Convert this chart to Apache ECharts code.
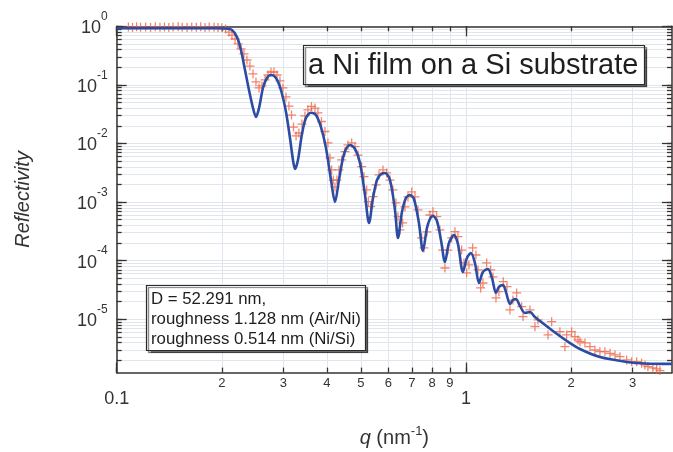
<!DOCTYPE html>
<html>
<head>
<meta charset="utf-8">
<script src="https://cdn.jsdelivr.net/npm/echarts@6/dist/echarts.min.js"></script>
<style>
  html, body { margin: 0; padding: 0; background: #ffffff; }
  #chart { width: 673px; height: 452px; }
</style>
</head>
<body>
<div id="chart"></div>
<script>
// Fitted reflectivity curve (q in nm^-1, R)
const fitQ = [0.1, 0.15, 0.19, 0.2042, 0.2138, 0.2210, 0.2269, 0.2330, 0.2392, 0.2456, 0.2505, 0.2556, 0.2623, 0.2693, 0.2765,
  0.2858, 0.2953, 0.3053, 0.3134, 0.3197, 0.3239, 0.3304, 0.3392, 0.3482, 0.3598, 0.3720, 0.3844, 0.3974, 0.4108, 0.4217,
  0.4329, 0.4445, 0.4535, 0.4656, 0.4812, 0.4973, 0.5140, 0.5278, 0.5418, 0.5563, 0.5711, 0.5863, 0.6060, 0.6263, 0.6388,
  0.6558, 0.6733, 0.6913, 0.7098, 0.7334, 0.7530, 0.7732, 0.7887, 0.8045, 0.8259, 0.8481, 0.8707, 0.8940, 0.9240, 0.9487,
  0.9804, 1.0066, 1.0335, 1.0611, 1.0895, 1.1186, 1.1561, 1.1871, 1.2188, 1.2431, 1.2763, 1.3018, 1.3366, 1.3632, 1.3904,
  1.4275, 1.4753, 1.5248, 1.5759, 1.6287, 1.7748, 1.9454, 2.1205, 2.4185, 2.8907, 3.2544, 3.8889];
const fitR = [0.925, 0.925, 0.924, 0.917, 0.865, 0.657, 0.394, 0.1796, 0.0818, 0.0403, 0.0283, 0.0403, 0.0886, 0.1311, 0.1475,
  0.1311, 0.0818, 0.0345, 0.01241, 0.00523, 0.00367, 0.00523, 0.01453, 0.02724, 0.03354, 0.03064, 0.01912, 0.00838, 0.002383, 0.001004,
  0.002383, 0.00566, 0.00806, 0.00943, 0.00806, 0.004648, 0.001321, 0.000440, 0.001174, 0.002383, 0.003016, 0.003137, 0.002383, 0.000733, 0.000244,
  0.000678, 0.001174, 0.001321, 0.001129, 0.000440, 0.0001464, 0.000361, 0.000515, 0.000579, 0.000476, 0.0002255, 0.0000950, 0.0002004, 0.0002745, 0.0001927,
  0.0000642, 0.0001112, 0.0001353, 0.0000913, 0.0000416, 0.0000642, 0.0000722, 0.0000507, 0.0000281, 0.0000356, 0.0000385, 0.0000292, 0.0000182, 0.0000213, 0.0000222,
  0.0000169, 0.0000128, 0.0000133, 0.0000109, 0.00000935, 0.00000631, 0.00000426, 0.00000311, 0.00000227, 0.00000187, 0.00000176, 0.00000173];

// Measured reflectivity points
const dataQ = [0.108, 0.111, 0.114, 0.117, 0.121, 0.125, 0.129, 0.133, 0.137, 0.141, 0.145, 0.150, 0.154, 0.159, 0.164,
  0.169, 0.174, 0.179, 0.184, 0.190, 0.195, 0.200, 0.205,
  0.2097, 0.2138, 0.2182, 0.2225, 0.2269, 0.2314, 0.2360, 0.2407, 0.2456, 0.2505, 0.2556, 0.2606, 0.2659, 0.2711, 0.2765,
  0.2820, 0.2877, 0.2934, 0.2992, 0.3053, 0.3113, 0.3166, 0.3208, 0.3262, 0.3324, 0.3392, 0.3459, 0.3528, 0.3611, 0.3695,
  0.3769, 0.3857, 0.3947, 0.4026, 0.4080, 0.4126, 0.4170, 0.4217, 0.4272, 0.4329, 0.4406, 0.4503, 0.4594, 0.4708, 0.4812,
  0.4908, 0.5029, 0.5105, 0.5197, 0.5252, 0.5336, 0.5418, 0.5526, 0.5636, 0.5787, 0.5929, 0.6060, 0.6180, 0.6304, 0.6388,
  0.6471, 0.6588, 0.6689, 0.6823, 0.6993, 0.7145, 0.7288, 0.7468, 0.7583, 0.7732, 0.7887, 0.8045, 0.8243, 0.8424, 0.8577,
  0.8707, 0.8882, 0.9101, 0.9300, 0.9487, 0.9721, 0.9869, 1.0046, 1.0200, 1.0452, 1.0681, 1.0824, 1.1017, 1.1186, 1.1463,
  1.1768, 1.1949, 1.2188, 1.2431, 1.2788, 1.3104, 1.3366, 1.3632, 1.3971, 1.4441, 1.4565, 1.5248, 1.5759, 1.6073, 1.7175,
  1.7597, 1.8580, 1.9203, 1.9421, 2.0070, 2.0515, 2.0923, 2.1205, 2.1914, 2.2646, 2.3404, 2.4185, 2.4995, 2.5847, 2.6714,
  2.7609, 2.8854, 2.9820, 3.0818, 3.1842, 3.2544, 3.3189, 3.4303, 3.5156, 3.5925];
const dataR = [0.97, 0.95, 0.98, 0.96, 0.97, 0.95, 0.98, 0.96, 0.97, 0.95, 0.97, 0.98, 0.96, 0.95, 0.97,
  0.96, 0.98, 0.95, 0.97, 0.96, 0.95, 0.94, 0.90,
  0.799, 0.710, 0.607, 0.499, 0.410, 0.337, 0.266, 0.210, 0.1535, 0.1121, 0.0886, 0.0958, 0.1213, 0.1475, 0.1660,
  0.166, 0.1475, 0.1166, 0.0886, 0.0622, 0.0436, 0.0306, 0.0191, 0.01343, 0.0151, 0.0215, 0.02946, 0.0373, 0.0428, 0.0403,
  0.0332, 0.02373, 0.01602, 0.0102, 0.00566, 0.00353, 0.00238, 0.00181, 0.00238, 0.00353, 0.00523, 0.00725, 0.00943, 0.0102, 0.00882,
  0.00636, 0.00402, 0.00271, 0.00161, 0.001016, 0.000835, 0.001236, 0.001958, 0.0029, 0.00353, 0.00314, 0.00238, 0.00161, 0.000965, 0.000563,
  0.000334, 0.00044, 0.000825, 0.001222, 0.001487, 0.001222, 0.000733, 0.000244, 0.000165, 0.000309, 0.000602, 0.000686, 0.000563, 0.000334, 0.000152,
  0.000075, 0.000152, 0.000244, 0.000313, 0.000257, 0.000152, 0.0000913, 0.0000617, 0.0000845, 0.000165, 0.000125, 0.0000694, 0.0000342, 0.0000416, 0.0000913,
  0.0000694, 0.0000527, 0.0000231, 0.0000296, 0.0000438, 0.000036, 0.0000144, 0.0000213, 0.0000281, 0.0000164, 0.0000111, 0.0000144, 0.00000747, 0.00000973, 0.0000054,
  0.0000091, 0.00000614, 0.00000341, 0.0000054, 0.00000614, 0.00000505, 0.00000443, 0.00000415, 0.00000394, 0.00000341, 0.00000299, 0.0000028, 0.0000028, 0.00000263, 0.00000246,
  0.0000023, 0.00000202, 0.00000189, 0.00000189, 0.00000177, 0.00000166, 0.00000155, 0.00000148, 0.00000142, 0.00000133];

// Tick positions
const xMinorTicks = [0.2, 0.3, 0.4, 0.5, 0.6, 0.7, 0.8, 0.9, 2, 3];
const xMajorTicks = [0.1, 1];
const yMajorTicks = [1e-5, 1e-4, 1e-3, 1e-2, 1e-1, 1];
const yMinorSteps = [2, 3, 4, 5, 6, 7, 8, 9];
const yDecades = [1e-6, 1e-5, 1e-4, 1e-3, 1e-2, 1e-1];

const titleText = 'a Ni film on a Si substrate';
const infoText = 'D = 52.291 nm,\nroughness 1.128 nm (Air/Ni)\nroughness 0.514 nm (Ni/Si)';

const yMinorTicks = [];
yDecades.forEach(d => yMinorSteps.forEach(m => yMinorTicks.push(m * d)));
const xAllTicks = xMinorTicks.concat(xMajorTicks);
const yAllTicks = yMinorTicks.concat(yMajorTicks);

const Q_MIN = 0.1, Q_MAX = 3.89, R_MIN = 1.23e-6, R_MAX = 1;
const FONT = '"Liberation Sans", Helvetica, Arial, sans-serif';
const AXIS_COLOR = '#3a3230';
const GRID_COLOR = '#e1e5ed';

function logAxis(dim, pos, ticks, tickLen, showLine, extra) {
  const base = {
    type: 'log', logBase: 10, position: pos,
    min: dim === 'x' ? Q_MIN : R_MIN,
    max: dim === 'x' ? Q_MAX : R_MAX,
    axisLine: { show: showLine, onZero: false, lineStyle: { color: AXIS_COLOR, width: 1.5 } },
    axisTick: { show: true, inside: true, length: tickLen, customValues: ticks,
      lineStyle: { color: AXIS_COLOR, width: 1.3 } },
    axisLabel: { show: false },
    splitLine: { show: false },
    minorTick: { show: false },
    silent: true
  };
  return Object.assign(base, extra || {});
}

const chart = echarts.init(document.getElementById('chart'), null, { renderer: 'canvas' });

chart.setOption({
  animation: false,
  backgroundColor: '#ffffff',
  textStyle: { fontFamily: FONT },
  grid: { left: 116.7, top: 26.3, right: 1, bottom: 79.4, containLabel: false, outerBoundsMode: 'none' },
  title: [
    {
      text: titleText, left: 303, top: 45,
      padding: [6, 6, 5, 5],
      backgroundColor: '#ffffff', borderColor: '#2a2a2a', borderWidth: 1.2,
      shadowColor: 'rgba(0,0,0,0.55)', shadowOffsetX: 2, shadowOffsetY: 2, shadowBlur: 1,
      textStyle: { fontFamily: FONT, fontSize: 29, fontWeight: 'normal', color: '#1e1e1e' }
    },
    {
      text: infoText, left: 146, top: 285,
      padding: [4, 5, 2, 5],
      backgroundColor: '#ffffff', borderColor: '#2a2a2a', borderWidth: 1.2,
      shadowColor: 'rgba(0,0,0,0.55)', shadowOffsetX: 2, shadowOffsetY: 2, shadowBlur: 1,
      textStyle: { fontFamily: FONT, fontSize: 16.8, lineHeight: 20, fontWeight: 'normal', color: '#1e1e1e' }
    }
  ],
  xAxis: [
    logAxis('x', 'bottom', xAllTicks, 5, true, {
      splitLine: { show: true, lineStyle: { color: GRID_COLOR, width: 1 } },
      axisLabel: {
        show: true, customValues: xMinorTicks, margin: 4,
        fontFamily: FONT, fontSize: 13, color: '#333',
        formatter: v => (v < 1 ? String(Math.round(v * 10)) : String(Math.round(v)))
      }
    }),
    logAxis('x', 'bottom', xMajorTicks, 10, false, {
      axisLabel: {
        show: true, customValues: xMajorTicks, margin: 17,
        fontFamily: FONT, fontSize: 18, color: '#333',
        formatter: v => (v < 1 ? '0.1' : '1')
      },
      name: '{i|q} (nm{s|-1})',
      nameLocation: 'middle', nameGap: 52,
      nameTextStyle: {
        fontFamily: FONT, fontSize: 20, color: '#333',
        rich: {
          i: { fontFamily: FONT, fontSize: 20, fontStyle: 'italic', color: '#333' },
          s: { fontFamily: FONT, fontSize: 13, color: '#333', padding: [0, 0, 14, 0] }
        }
      }
    }),
    logAxis('x', 'top', xAllTicks, 5, true),
    logAxis('x', 'top', xMajorTicks, 10, false)
  ],
  yAxis: [
    logAxis('y', 'left', yAllTicks, 5, true, {
      splitLine: { show: true, lineStyle: { color: GRID_COLOR, width: 1 } }
    }),
    logAxis('y', 'left', yMajorTicks, 10, false, {
      axisLabel: {
        show: true, customValues: yMajorTicks, margin: 9,
        formatter: v => '{b|10}{s|' + Math.round(Math.log10(v)) + '}',
        rich: {
          b: { fontFamily: FONT, fontSize: 18, color: '#333', padding: [4, 0, 0, 0] },
          s: { fontFamily: FONT, fontSize: 12, color: '#333', padding: [0, 0, 19, 0] }
        }
      },
      name: 'Reflectivity',
      nameLocation: 'middle', nameGap: 83, nameRotate: 90,
      nameTextStyle: { fontFamily: FONT, fontSize: 20, fontStyle: 'italic', color: '#333' }
    }),
    logAxis('y', 'right', yAllTicks, 5, true),
    logAxis('y', 'right', yMajorTicks, 10, false)
  ],
  series: [
    {
      name: 'measured', type: 'scatter', xAxisIndex: 0, yAxisIndex: 0,
      symbol: 'path://M-0.7,-5H0.7V-0.7H5V0.7H0.7V5H-0.7V0.7H-5V-0.7H-0.7Z',
      symbolSize: 9,
      itemStyle: { color: '#ee6446' },
      data: dataQ.map((q, i) => [q, dataR[i]]),
      z: 2, clip: true
    },
    {
      name: 'fit', type: 'line', xAxisIndex: 0, yAxisIndex: 0,
      showSymbol: false, smooth: 0.3,
      lineStyle: { color: '#2c4ca3', width: 2.6 },
      data: fitQ.map((q, i) => [q, fitR[i]]),
      z: 3, clip: true
    }
  ]
});
</script>
</body>
</html>
